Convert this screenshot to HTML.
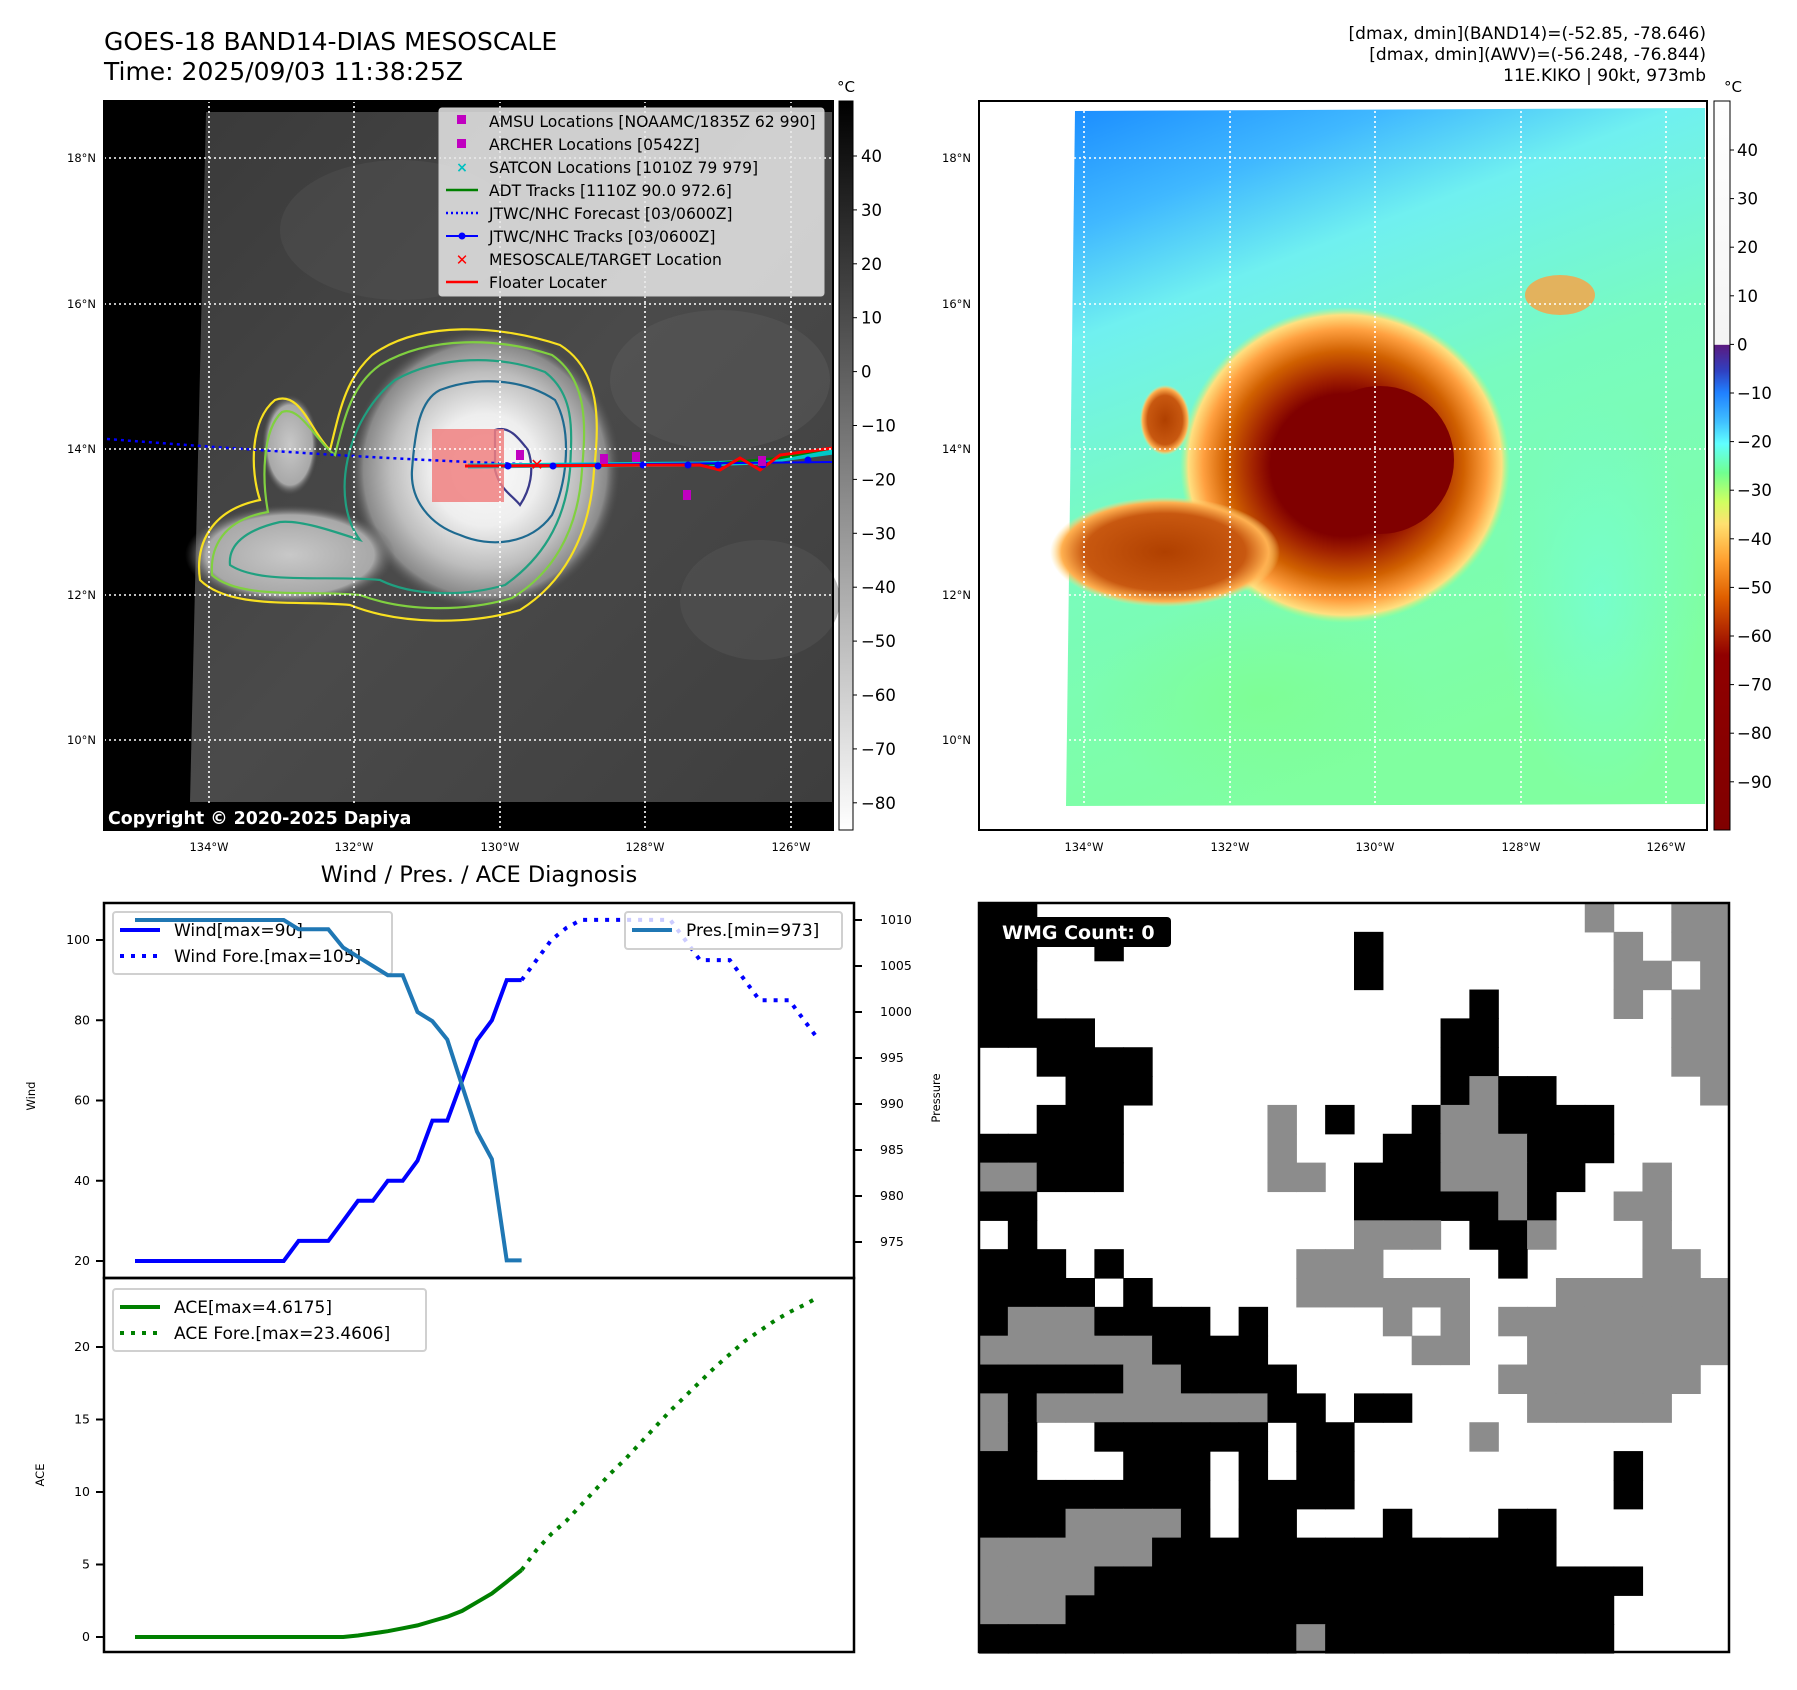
<!DOCTYPE html>
<html><head><meta charset="utf-8">
<style>
html,body{margin:0;padding:0;background:#fff;}
svg{display:block;font-family:"DejaVu Sans","Liberation Sans",sans-serif;}
</style></head>
<body>
<svg id="root" width="1797" height="1690" viewBox="0 0 1797 1690" xmlns="http://www.w3.org/2000/svg">
<defs>
  <linearGradient id="cbGray" x1="0" y1="0" x2="0" y2="1">
    <stop offset="0" stop-color="#000"/><stop offset="1" stop-color="#fff"/>
  </linearGradient>
  <linearGradient id="cbJet" x1="0" y1="0" x2="0" y2="1">
    <stop offset="0" stop-color="#ffffff"/>
    <stop offset="0.334" stop-color="#f4f4f4"/>
    <stop offset="0.335" stop-color="#5a1a80"/>
    <stop offset="0.37" stop-color="#3040c0"/>
    <stop offset="0.40" stop-color="#2080ff"/>
    <stop offset="0.44" stop-color="#40c0ff"/>
    <stop offset="0.47" stop-color="#60ffff"/>
    <stop offset="0.51" stop-color="#70ff90"/>
    <stop offset="0.55" stop-color="#d0ff60"/>
    <stop offset="0.58" stop-color="#ffe070"/>
    <stop offset="0.63" stop-color="#ffa030"/>
    <stop offset="0.68" stop-color="#e06000"/>
    <stop offset="0.76" stop-color="#900000"/>
    <stop offset="1" stop-color="#800000"/>
  </linearGradient>
  <linearGradient id="rbg" x1="0" y1="0" x2="0.35" y2="1">
    <stop offset="0" stop-color="#1a8cff"/>
    <stop offset="0.16" stop-color="#40b8ff"/>
    <stop offset="0.3" stop-color="#70f0f0"/>
    <stop offset="0.55" stop-color="#78fbc0"/>
    <stop offset="1" stop-color="#80ffa0"/>
  </linearGradient>
  <radialGradient id="greenBlob">
    <stop offset="0" stop-color="#80ff80" stop-opacity="0.5"/>
    <stop offset="1" stop-color="#80ff80" stop-opacity="0"/>
  </radialGradient>
  <radialGradient id="cyanBlob">
    <stop offset="0" stop-color="#70ffe8" stop-opacity="0.55"/>
    <stop offset="1" stop-color="#70ffe8" stop-opacity="0"/>
  </radialGradient>
  <radialGradient id="stormR">
    <stop offset="0" stop-color="#800000"/>
    <stop offset="0.45" stop-color="#800000"/>
    <stop offset="0.55" stop-color="#a02000"/>
    <stop offset="0.72" stop-color="#d06000"/>
    <stop offset="0.86" stop-color="#ffa040"/>
    <stop offset="0.95" stop-color="#ffe080"/>
    <stop offset="1" stop-color="#b0ff80" stop-opacity="0"/>
  </radialGradient>
  <radialGradient id="bandR">
    <stop offset="0" stop-color="#b04000"/>
    <stop offset="0.7" stop-color="#c85810"/>
    <stop offset="0.9" stop-color="#ffb050"/>
    <stop offset="1" stop-color="#ffe080" stop-opacity="0"/>
  </radialGradient>
  <radialGradient id="stormG">
    <stop offset="0" stop-color="#fafafa"/>
    <stop offset="0.4" stop-color="#eeeeee"/>
    <stop offset="0.7" stop-color="#bdbdbd"/>
    <stop offset="0.9" stop-color="#8a8a8a"/>
    <stop offset="1" stop-color="#555" stop-opacity="0"/>
  </radialGradient>
  <radialGradient id="bandG">
    <stop offset="0" stop-color="#c8c8c8"/>
    <stop offset="0.8" stop-color="#a8a8a8"/>
    <stop offset="1" stop-color="#555" stop-opacity="0"/>
  </radialGradient>
  <linearGradient id="lbg" x1="0" y1="0" x2="1" y2="1">
    <stop offset="0" stop-color="#3a3a3a"/>
    <stop offset="0.5" stop-color="#4a4a4a"/>
    <stop offset="1" stop-color="#3e3e3e"/>
  </linearGradient>
</defs>

<text x="104" y="50" font-size="25">GOES-18 BAND14-DIAS MESOSCALE</text>
<text x="104" y="80" font-size="25">Time: 2025/09/03 11:38:25Z</text>
<g font-size="17" text-anchor="end">
  <text x="1706" y="39">[dmax, dmin](BAND14)=(-52.85, -78.646)</text>
  <text x="1706" y="60">[dmax, dmin](AWV)=(-56.248, -76.844)</text>
  <text x="1706" y="81">11E.KIKO | 90kt, 973mb</text>
</g>

<!-- LEFT MAP -->
<g>
  <rect x="104" y="101" width="729" height="729" fill="#000"/>
  <polygon points="206,112 832,112 832,802 190,802" fill="url(#lbg)"/>
  <ellipse cx="720" cy="380" rx="110" ry="70" fill="#5a5a5a" opacity="0.5"/>
  <ellipse cx="400" cy="230" rx="120" ry="70" fill="#565656" opacity="0.4"/>
  <ellipse cx="760" cy="600" rx="80" ry="60" fill="#5a5a5a" opacity="0.4"/>
  <ellipse cx="485" cy="470" rx="135" ry="140" fill="url(#stormG)"/>
  <ellipse cx="290" cy="555" rx="105" ry="50" fill="url(#bandG)"/>
  <ellipse cx="290" cy="445" rx="28" ry="50" fill="url(#bandG)"/>
  <g fill="none" stroke-width="2.2">
    <path d="M372,355 C420,320 500,325 560,345 C600,370 600,420 594,470 C590,540 560,585 520,610 C470,625 400,625 350,605 C300,600 230,610 200,580 C195,545 210,510 260,500 C250,470 250,420 275,400 C300,390 310,430 330,450 C340,410 345,380 372,355 Z" stroke="#f8e020"/>
    <path d="M380,365 C430,335 500,338 552,355 C588,380 586,425 582,470 C578,535 550,575 512,598 C465,612 405,612 360,595 C310,590 240,600 212,575 C210,548 222,520 268,512 C262,480 262,430 282,412 C300,405 315,440 335,455 C345,415 352,385 380,365 Z" stroke="#80d040"/>
    <path d="M395,380 C440,355 500,355 545,372 C575,395 572,430 570,470 C565,525 540,560 505,585 C460,598 410,595 380,580 C330,575 260,585 230,565 C228,545 245,530 280,522 C300,520 330,530 360,540 C330,500 345,420 395,380 Z" stroke="#20a080"/>
    <path d="M440,390 C480,375 525,380 555,400 C572,430 568,480 552,515 C530,545 490,548 460,535 C430,525 410,500 412,470 C415,430 420,400 440,390 Z" stroke="#1e6a90"/>
    <path d="M495,430 C510,425 520,440 528,450 C535,470 530,490 520,505 C512,495 500,490 495,470 Z" stroke="#3a3a8a"/>
  </g>
  <rect x="432" y="429" width="72" height="73" fill="#f08080" opacity="0.85"/>
  <path d="M107,439 C250,450 400,460 523,464" fill="none" stroke="#0000ff" stroke-width="2.5" stroke-dasharray="3,4"/>
  <path d="M468,466 L700,464 L760,462 L833,452" fill="none" stroke="#00c8c8" stroke-width="5"/>
  <path d="M540,466 L700,465 L780,458 L833,448" fill="none" stroke="#008000" stroke-width="2.5"/>
  <path d="M465,466 L833,462" fill="none" stroke="#0000ff" stroke-width="2"/>
  <path d="M465,466 L700,465 L720,470 L740,458 L760,470 L780,455 L833,448" fill="none" stroke="#ff0000" stroke-width="3"/>
  <g fill="#0000ff">
    <circle cx="508" cy="466" r="3.5"/><circle cx="553" cy="466" r="3.5"/><circle cx="598" cy="466" r="3.5"/><circle cx="643" cy="465" r="3.5"/><circle cx="688" cy="465" r="3.5"/><circle cx="718" cy="465" r="3.5"/><circle cx="763" cy="465" r="3.5"/><circle cx="808" cy="460" r="3.5"/>
  </g>
  <g fill="#c000c0">
    <rect x="516" y="450" width="8" height="10"/><rect x="600" y="454" width="8" height="10"/><rect x="632" y="452" width="8" height="10"/><rect x="683" y="490" width="8" height="10"/><rect x="758" y="456" width="8" height="10"/>
  </g>
  <text x="537" y="470" font-size="16" fill="#ff0000" font-weight="bold" text-anchor="middle">✕</text>
  <g stroke="#fff" stroke-width="1.6" stroke-dasharray="2,3">
    <line x1="209" y1="101" x2="209" y2="830"/><line x1="354" y1="101" x2="354" y2="830"/><line x1="500" y1="101" x2="500" y2="830"/><line x1="645" y1="101" x2="645" y2="830"/><line x1="791" y1="101" x2="791" y2="830"/>
    <line x1="104" y1="158" x2="833" y2="158"/><line x1="104" y1="304" x2="833" y2="304"/><line x1="104" y1="449" x2="833" y2="449"/><line x1="104" y1="595" x2="833" y2="595"/><line x1="104" y1="740" x2="833" y2="740"/>
  </g>
  <g>
    <rect x="439" y="108" width="385" height="188" rx="3" fill="#e8e8e8" fill-opacity="0.85" stroke="#ccc"/>
    <g font-size="15.6" fill="#000">
      <rect x="457" y="115" width="9" height="9" fill="#c000c0"/><text x="489" y="127">AMSU Locations [NOAAMC/1835Z 62 990]</text>
      <rect x="457" y="139" width="9" height="9" fill="#c000c0"/><text x="489" y="150">ARCHER Locations [0542Z]</text>
      <text x="462" y="172" fill="#00c0c0" font-size="14" text-anchor="middle" font-weight="bold">×</text><text x="489" y="173">SATCON Locations [1010Z 79 979]</text>
      <line x1="446" y1="190" x2="478" y2="190" stroke="#008000" stroke-width="2.5"/><text x="489" y="196">ADT Tracks [1110Z 90.0 972.6]</text>
      <line x1="446" y1="213" x2="478" y2="213" stroke="#0000ff" stroke-width="2.5" stroke-dasharray="2,3"/><text x="489" y="219">JTWC/NHC Forecast [03/0600Z]</text>
      <line x1="446" y1="236" x2="478" y2="236" stroke="#0000ff" stroke-width="2"/><circle cx="462" cy="236" r="3.5" fill="#0000ff"/><text x="489" y="242">JTWC/NHC Tracks [03/0600Z]</text>
      <text x="462" y="265" fill="#ff0000" font-size="15" text-anchor="middle" font-weight="bold">✕</text><text x="489" y="265">MESOSCALE/TARGET Location</text>
      <line x1="446" y1="282" x2="478" y2="282" stroke="#ff0000" stroke-width="2.5"/><text x="489" y="288">Floater Locater</text>
    </g>
  </g>
  <rect x="104" y="805" width="306" height="25" rx="3" fill="#000"/>
  <text x="108" y="824" font-size="17.4" font-weight="bold" fill="#fff">Copyright © 2020-2025 Dapiya</text>
  <rect x="104" y="101" width="729" height="729" fill="none" stroke="#000" stroke-width="2"/>
</g>
<g font-size="11.5" text-anchor="end">
  <text x="96" y="162">18°N</text><text x="96" y="308">16°N</text><text x="96" y="453">14°N</text><text x="96" y="599">12°N</text><text x="96" y="744">10°N</text>
</g>
<g font-size="11.5" text-anchor="middle">
  <text x="209" y="851">134°W</text><text x="354" y="851">132°W</text><text x="500" y="851">130°W</text><text x="645" y="851">128°W</text><text x="791" y="851">126°W</text>
</g>
<g>
  <rect x="839" y="101" width="14" height="729" fill="url(#cbGray)" stroke="#000" stroke-width="1"/>
  <text x="846" y="92" font-size="15" text-anchor="middle">°C</text>
  <g font-size="16.5" id="cb1labels"></g>
</g>

<!-- RIGHT MAP -->
<g>
  <polygon points="1075,111 1705,108 1705,804 1066,806" fill="url(#rbg)"/>
  <ellipse cx="1260" cy="700" rx="170" ry="100" fill="url(#greenBlob)"/>
  <ellipse cx="1600" cy="600" rx="100" ry="200" fill="url(#cyanBlob)"/>
  <ellipse cx="1560" cy="295" rx="35" ry="20" fill="#ffa040" opacity="0.8"/>
  <ellipse cx="1345" cy="465" rx="165" ry="158" fill="url(#stormR)"/>
  <ellipse cx="1165" cy="552" rx="115" ry="55" fill="url(#bandR)"/>
  <ellipse cx="1165" cy="420" rx="25" ry="35" fill="url(#bandR)"/>
  <circle cx="1380" cy="460" r="74" fill="#800000"/>
  <g stroke="#fff" stroke-width="1.6" stroke-dasharray="2,3">
    <line x1="1084" y1="101" x2="1084" y2="830"/><line x1="1230" y1="101" x2="1230" y2="830"/><line x1="1375" y1="101" x2="1375" y2="830"/><line x1="1521" y1="101" x2="1521" y2="830"/><line x1="1666" y1="101" x2="1666" y2="830"/>
    <line x1="979" y1="158" x2="1707" y2="158"/><line x1="979" y1="304" x2="1707" y2="304"/><line x1="979" y1="449" x2="1707" y2="449"/><line x1="979" y1="595" x2="1707" y2="595"/><line x1="979" y1="740" x2="1707" y2="740"/>
  </g>
  <rect x="979" y="101" width="728" height="729" fill="none" stroke="#000" stroke-width="2"/>
</g>
<g font-size="11.5" text-anchor="end">
  <text x="971" y="162">18°N</text><text x="971" y="308">16°N</text><text x="971" y="453">14°N</text><text x="971" y="599">12°N</text><text x="971" y="744">10°N</text>
</g>
<g font-size="11.5" text-anchor="middle">
  <text x="1084" y="851">134°W</text><text x="1230" y="851">132°W</text><text x="1375" y="851">130°W</text><text x="1521" y="851">128°W</text><text x="1666" y="851">126°W</text>
</g>
<g>
  <rect x="1714" y="101" width="16" height="729" fill="url(#cbJet)" stroke="#000" stroke-width="1"/>
  <text x="1733" y="92" font-size="15" text-anchor="middle">°C</text>
  <g font-size="16.5" id="cb2labels"></g>
</g>

<text x="479" y="882" font-size="22.5" text-anchor="middle">Wind / Pres. / ACE Diagnosis</text>
<g id="chart"></g>
<g id="wmg"></g>
</svg>

<script>
// ---- chart data ----
var windObs = [20,20,20,20,20,20,20,20,20,20,20,25,25,25,30,35,35,40,40,45,55,55,65,75,80,90,90];
var windFore = [90,95,100,103,105,105,105,105,105,105,105,100,95,95,95,90,85,85,85,80,75];
var presObs = [1010,1010,1010,1010,1010,1010,1010,1010,1010,1010,1010,1009,1009,1009,1007,1006,1005,1004,1004,1000,999,997,992,987,984,973,973];
var aceObs = [0,0,0,0,0,0,0,0,0,0,0,0,0,0,0,0.1,0.25,0.4,0.6,0.8,1.1,1.4,1.8,2.4,3.0,3.8,4.6175];
var aceFore = [4.6175,6.0,7.1,8.0,9.1,10.2,11.3,12.3,13.4,14.5,15.6,16.6,17.6,18.6,19.5,20.4,21.1,21.8,22.4,22.9,23.4606];
var windTicks = [20,40,60,80,100];
var presTicks = [975,980,985,990,995,1000,1005,1010];
var aceTicks = [0,5,10,15,20];
var cb1Ticks = [40,30,20,10,0,-10,-20,-30,-40,-50,-60,-70,-80];
var cb2Ticks = [40,30,20,10,0,-10,-20,-30,-40,-50,-60,-70,-80,-90];
var foreStart = 26;

var NS = 'http://www.w3.org/2000/svg';
function mk(tag, attrs, parent){ var e=document.createElementNS(NS,tag); for(var k in attrs) e.setAttribute(k,attrs[k]); parent.appendChild(e); return e; }
function xs(i){ return 135 + (819-135)*i/46; }
function yw(v){ return 940 + (100-v)*(1261-940)/80; }
function yp(v){ return 920 + (1010-v)*(1242-920)/35; }
function ya(v){ return 1637 - v*(1637-1347)/20; }

var ch = document.getElementById('chart');
function pts(arr, off, fy){ return arr.map(function(v,i){return xs(i+off).toFixed(1)+','+fy(v).toFixed(1);}).join(' '); }

function legend(x,y,w,h,items,name){
  var g=mk('g',{},ch);
  
  
  mk('rect',{x:x,y:y,width:w,height:h,rx:3,fill:'#fff','fill-opacity':0.8,stroke:'#d0d0d0','stroke-width':2},g);
  items.forEach(function(it,i){
    var cy=y+15+i*26;
    var a={x1:x+7,y1:cy+3,x2:x+47,y2:cy+3,stroke:it.c,'stroke-width':4};
    if(it.d) a['stroke-dasharray']='4,7';
    mk('line',a,g);
    var t=mk('text',{x:x+61,y:cy+9,'font-size':17},g); t.textContent=it.t;
  });
}

var wl = mk('polyline',{points:pts(windObs,0,yw),fill:'none',stroke:'#0000ff','stroke-width':4},ch);


var wf = mk('polyline',{points:pts(windFore,foreStart,yw),fill:'none',stroke:'#0000ff','stroke-width':4,'stroke-dasharray':'4,7'},ch);


legend(113,912,279,62,[{c:'#0000ff',t:'Wind[max=90]'},{c:'#0000ff',t:'Wind Fore.[max=105]',d:1}],'wind-legend');
var pl = mk('polyline',{points:pts(presObs,0,yp),fill:'none',stroke:'#1f77b4','stroke-width':4},ch);


legend(625,912,217,37,[{c:'#1f77b4',t:'Pres.[min=973]'}],'pressure-legend');
var al = mk('polyline',{points:pts(aceObs,0,ya),fill:'none',stroke:'#008000','stroke-width':4},ch);


var af = mk('polyline',{points:pts(aceFore,foreStart,ya),fill:'none',stroke:'#008000','stroke-width':4,'stroke-dasharray':'4,7'},ch);


legend(113,1289,313,62,[{c:'#008000',t:'ACE[max=4.6175]'},{c:'#008000',t:'ACE Fore.[max=23.4606]',d:1}],'ace-legend');

var f1 = mk('rect',{x:104,y:903,width:750,height:375,fill:'none',stroke:'#000','stroke-width':2.5},ch);


var f2 = mk('rect',{x:104,y:1278,width:750,height:374,fill:'none',stroke:'#000','stroke-width':2.5},ch);



windTicks.forEach(function(t){
  var y=yw(t);
  mk('line',{x1:96,y1:y,x2:104,y2:y,stroke:'#000','stroke-width':2},ch);
  var tx=mk('text',{x:90,y:y+4,'font-size':12.5,'text-anchor':'end'},ch); tx.textContent=t;
  
  
});
presTicks.forEach(function(t){
  var y=yp(t);
  mk('line',{x1:854,y1:y,x2:862,y2:y,stroke:'#000','stroke-width':2},ch);
  var tx=mk('text',{x:880,y:y+4,'font-size':12.5},ch); tx.textContent=t;
  
  
});
aceTicks.forEach(function(t){
  var y=ya(t);
  mk('line',{x1:96,y1:y,x2:104,y2:y,stroke:'#000','stroke-width':2},ch);
  var tx=mk('text',{x:90,y:y+4,'font-size':12.5,'text-anchor':'end'},ch); tx.textContent=t;
  
  
});
function rlabel(txt,x,y,name){ var t=mk('text',{x:x,y:y,'font-size':11.5,'text-anchor':'middle',transform:'rotate(-90 '+x+' '+y+')'},ch); t.textContent=txt;
  
   }
rlabel('Wind',35,1096,'wind-axis-title');
rlabel('ACE',44,1475,'ace-axis-title');
rlabel('Pressure',940,1098,'pressure-axis-title');

var c1=document.getElementById('cb1labels');
cb1Ticks.forEach(function(t){ var y=156+(40-t)*5.39;
  mk('line',{x1:853,y1:y,x2:857,y2:y,stroke:'#000'},c1.parentNode);
  var e=mk('text',{x:861,y:y+6},c1); e.textContent=(t<0?'\u2212'+(-t):t);
  
   });
var c2=document.getElementById('cb2labels');
cb2Ticks.forEach(function(t){ var y=150+(40-t)*4.86;
  mk('line',{x1:1730,y1:y,x2:1734,y2:y,stroke:'#000'},c2.parentNode);
  var e=mk('text',{x:1737,y:y+6},c2); e.textContent=(t<0?'\u2212'+(-t):t);
  
   });

var wmgRows = [
"BBWWWWWWWWWWWWWWWWWWWGWWGG",
"BBWWBWWWWWWWWBWWWWWWWWGWGG",
"BBWWWWWWWWWWWBWWWWWWWWGGWG",
"BBWWWWWWWWWWWWWWWBWWWWGWGG",
"BBBBWWWWWWWWWWWWBBWWWWWWGG",
"WWBBBBWWWWWWWWWWBBWWWWWWGG",
"WWWBBBWWWWWWWWWWBGBBWWWWWG",
"WWBBBWWWWWGWBWWBGGBBBBWWWW",
"BBBBBWWWWWGWWWBBGGGBBBWWWW",
"GGBBBWWWWWGGWBBBGGGBBWWGWW",
"BBWWWWWWWWWWWBBBBBGBWWGGWW",
"WBWWWWWWWWWWWGGGWBBGWWWGWW",
"BBBWBWWWWWWGGGWWWWBWWWWGGW",
"BBBBWBWWWWWGGGGGGWWWGGGGGG",
"BGGGBBBBWBWWWWGWGWGGGGGGGG",
"GGGGGGBBBBWWWWWGGWWGGGGGGG",
"BBBBBGGBBBBWWWWWWWGGGGGGGW",
"GBGGGGGGGGBBWBBWWWWGGGGGWW",
"GBWWBBBBBBWBBWWWWGWWWWWWWW",
"BBWWWBBBWBWBBWWWWWWWWWBWWW",
"BBBBBBBBWBBBBWWWWWWWWWBWWW",
"BBBGGGGBWBBWWWBWWWBBWWWWWW",
"GGGGGGBBBBBBBBBBBBBBWWWWWW",
"GGGGBBBBBBBBBBBBBBBBBBBWWW",
"GGGBBBBBBBBBBBBBBBBBBBWWWW",
"BBBBBBBBBBBGBBBBBBBBBBWWWW"
];
var wg=document.getElementById('wmg');
var gx=979, gy=903, cs=750/26;
var colors={B:'#000',W:'#fff',G:'#8c8c8c'};
wmgRows.forEach(function(row,r){
  for(var c=0;c<row.length;c++){
    var ch2=row[c]; if(ch2==='W') continue;
    mk('rect',{x:(gx+c*cs).toFixed(2),y:(gy+r*cs).toFixed(2),width:(cs+0.6).toFixed(2),height:(cs+0.6).toFixed(2),fill:colors[ch2]},wg);
  }
});
var fr=mk('rect',{x:979,y:903,width:750,height:749,fill:'none',stroke:'#000','stroke-width':2.5},wg);


var lb=mk('rect',{x:988,y:917,width:183,height:30,rx:4,fill:'#000'},wg);


var lt=mk('text',{x:1002,y:939,'font-size':19,'font-weight':'bold',fill:'#fff'},wg);
lt.textContent='WMG Count: 0';


</script>
</body></html>
